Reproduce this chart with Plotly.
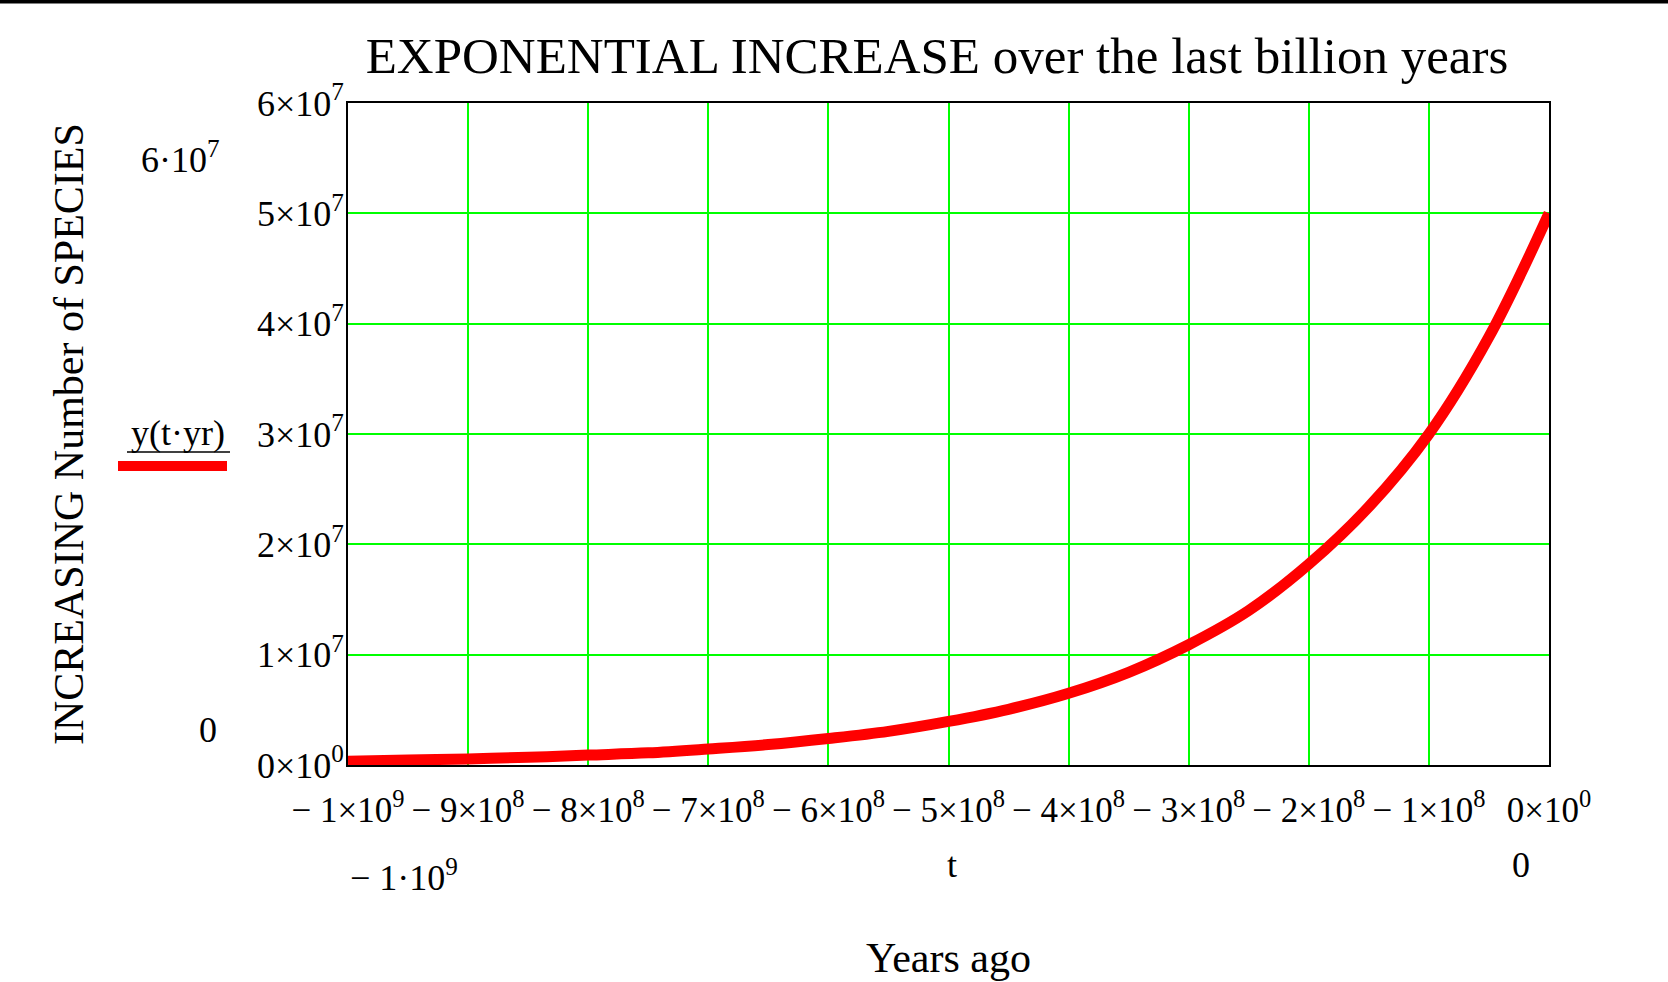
import plotly.graph_objects as go

# Data
t_years = [-1.0e9, -9.5e8, -9.0e8, -8.5e8, -8.0e8, -7.5e8, -7.0e8, -6.5e8, -6.0e8, -5.5e8,
           -5.0e8, -4.5e8, -4.0e8, -3.5e8, -3.0e8, -2.5e8, -2.0e8, -1.5e8, -1.0e8, -5.0e7, 0.0]
species = [0.35e6, 0.45e6, 0.55e6, 0.7e6, 0.9e6, 1.1e6, 1.45e6, 1.85e6, 2.4e6, 3.05e6,
           3.95e6, 5.05e6, 6.5e6, 8.4e6, 10.9e6, 14.0e6, 18.2e6, 23.4e6, 30.0e6, 38.8e6, 50.0e6]

x_tickvals = [-1e9, -9e8, -8e8, -7e8, -6e8, -5e8, -4e8, -3e8, -2e8, -1e8, 0]
x_ticktext = ["− 1×10<sup>9</sup>", "− 9×10<sup>8</sup>", "− 8×10<sup>8</sup>", "− 7×10<sup>8</sup>",
              "− 6×10<sup>8</sup>", "− 5×10<sup>8</sup>", "− 4×10<sup>8</sup>", "− 3×10<sup>8</sup>",
              "− 2×10<sup>8</sup>", "− 1×10<sup>8</sup>", "0×10<sup>0</sup>"]
y_tickvals = [0, 1e7, 2e7, 3e7, 4e7, 5e7, 6e7]
y_ticktext = ["0×10<sup>0</sup>", "1×10<sup>7</sup>", "2×10<sup>7</sup>", "3×10<sup>7</sup>",
              "4×10<sup>7</sup>", "5×10<sup>7</sup>", "6×10<sup>7</sup>"]

FONT = "Liberation Serif"
W, H = 1668, 982
L, R, T, B = 348, 1549, 103, 765


def px(xp):
    return (xp - L) / (R - L)


def py(yp):
    return (B - yp) / (B - T)


fig = go.Figure()
fig.add_trace(go.Scatter(x=t_years, y=species, mode="lines",
                         line=dict(color="#ff0000", width=11, shape="spline"),
                         name="y(t·yr)", showlegend=False))

axis_common = dict(showgrid=True, gridcolor="#00ff00", gridwidth=2, zeroline=False,
                   showline=True, linecolor="black", linewidth=2, mirror=True,
                   ticks="", layer="below traces")

fig.update_xaxes(range=[-1e9, 0], tickmode="array", tickvals=x_tickvals, ticktext=x_ticktext,
                 ticklabelstandoff=13, tickfont=dict(family=FONT, size=35, color="black"),
                 **axis_common)
fig.update_yaxes(range=[0, 6e7], tickmode="array", tickvals=y_tickvals, ticktext=y_ticktext,
                 ticklabelstandoff=-5, tickfont=dict(family=FONT, size=36, color="black"),
                 **axis_common)

ann_font = dict(family=FONT, size=36, color="black")
annotations = [
    dict(text="6·10<sup>7</sup>", x=px(180), y=py(157)),
    dict(text="0", x=px(208), y=py(730)),
    dict(text="y(t·yr)", x=px(178), y=py(433)),
    dict(text="− 1·10<sup>9</sup>", x=px(404), y=py(875)),
    dict(text="t", x=px(952), y=py(865)),
    dict(text="0", x=px(1521), y=py(865)),
    dict(text="Years ago", x=px(948), y=py(958), font=dict(family=FONT, size=42, color="black")),
    dict(text="INCREASING Number of SPECIES", x=px(69), y=py(434), textangle=-90,
         font=dict(family=FONT, size=42, color="black")),
]
for a in annotations:
    a.setdefault("font", ann_font)
    a.update(xref="paper", yref="paper", showarrow=False, xanchor="center", yanchor="middle")

fig.update_layout(
    width=W, height=H,
    margin=dict(l=L, r=W - R, t=T, b=H - B, autoexpand=False),
    paper_bgcolor="white", plot_bgcolor="white",
    title=dict(text="EXPONENTIAL INCREASE over the last billion years",
               font=dict(family=FONT, size=51, color="black"),
               x=px(937), xref="paper", xanchor="center",
               y=1 - 55 / H, yref="container", yanchor="middle"),
    annotations=annotations,
    shapes=[
        # underline of the legend label
        dict(type="line", xref="paper", yref="paper", x0=px(127), x1=px(230), y0=py(452), y1=py(452),
             line=dict(color="black", width=1.5)),
        # legend line sample
        dict(type="line", xref="paper", yref="paper", x0=px(118), x1=px(227), y0=py(466), y1=py(466),
             line=dict(color="#ff0000", width=10)),
        # frame line at the top of the page
        dict(type="line", xref="paper", yref="paper", x0=px(0), x1=px(W), y0=py(1.7), y1=py(1.7),
             line=dict(color="black", width=3.5)),
    ],
)

fig.write_html("out.html", config={"displayModeBar": False},
               post_script="document.body.style.margin='0';")
